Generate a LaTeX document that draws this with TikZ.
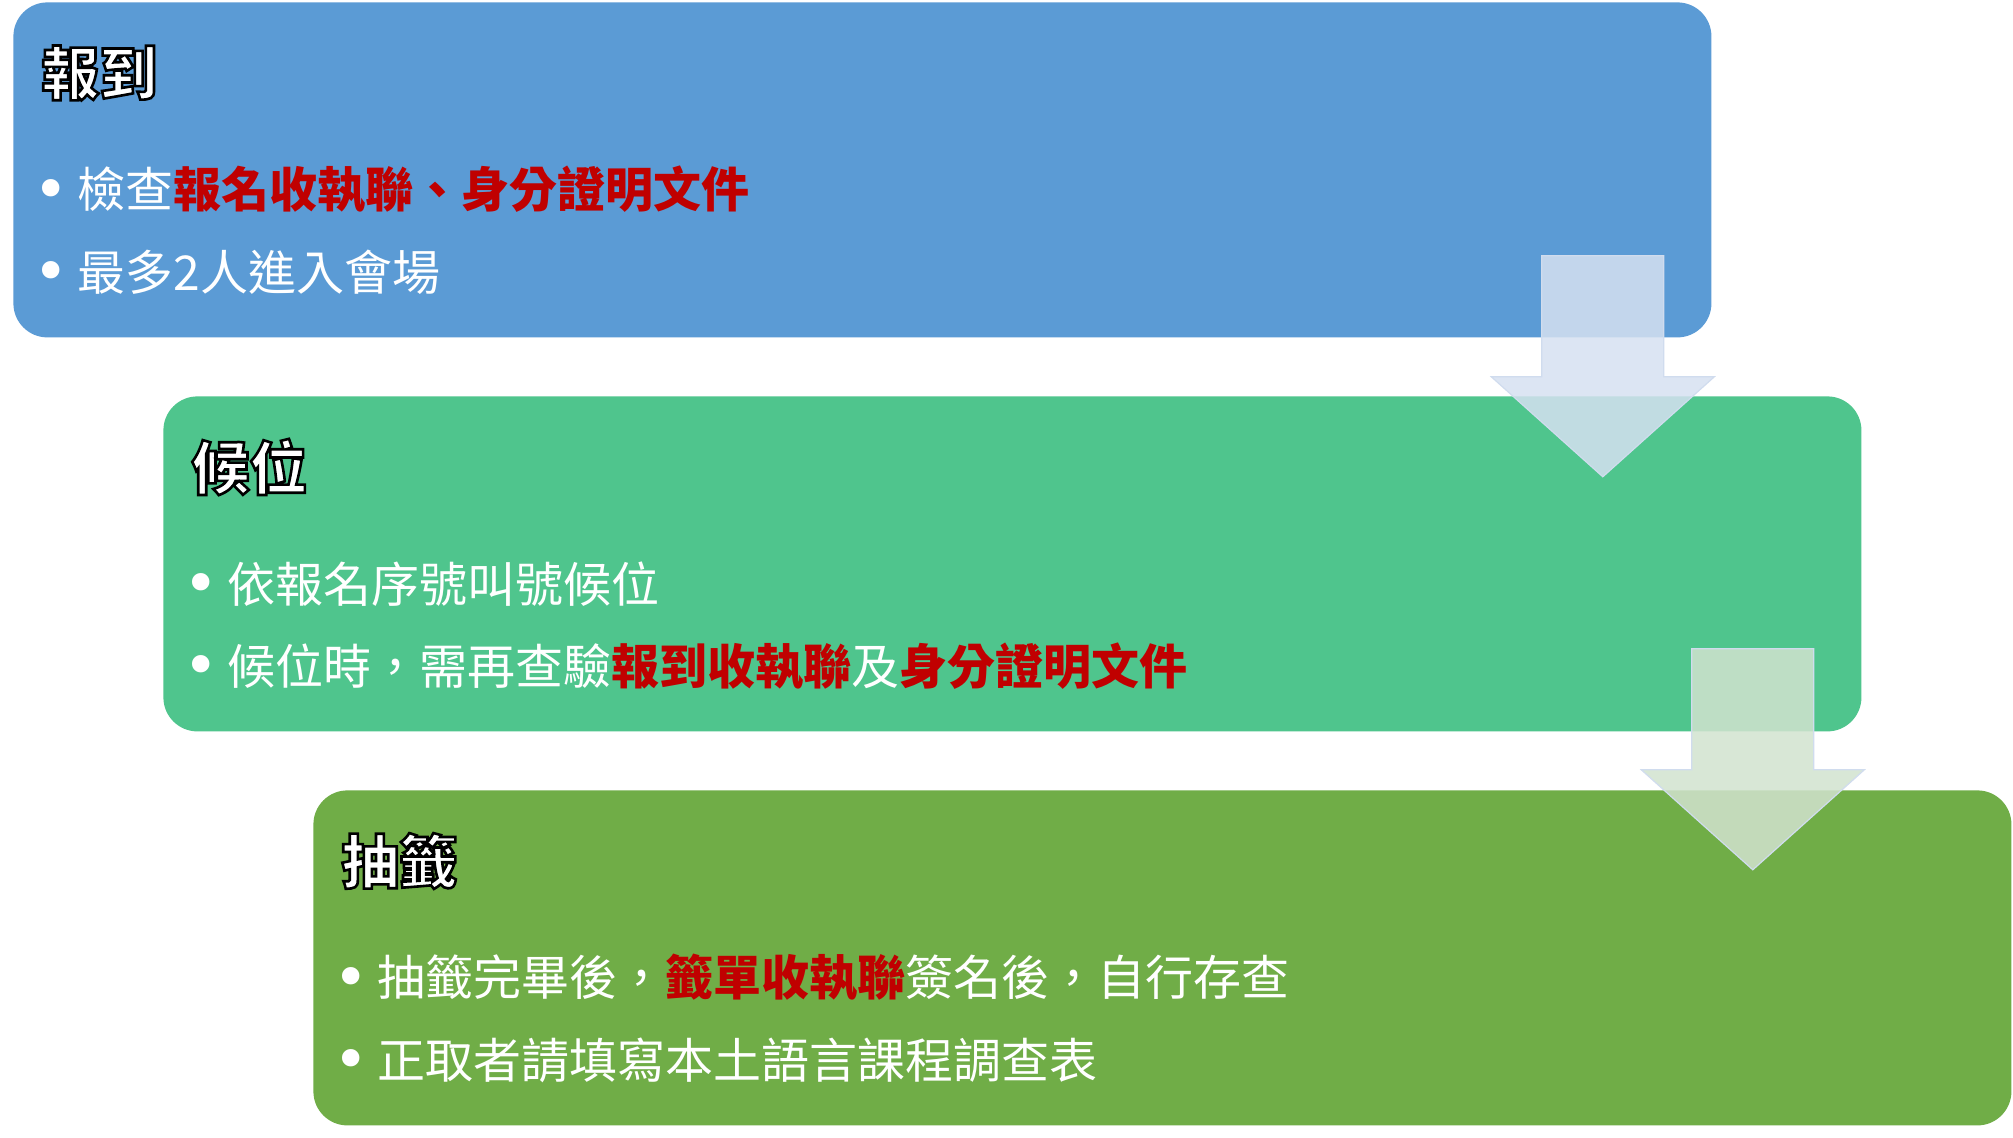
\documentclass[tikz,border=0pt]{standalone}
\usepackage{fontspec}
\setmainfont{Noto Sans CJK TC}
\newfontfamily\dotfont{DejaVu Sans}
\usetikzlibrary{calc}
\definecolor{boxA}{HTML}{5B9BD5}
\definecolor{boxB}{HTML}{4FC58D}
\definecolor{boxC}{HTML}{70AD47}
\definecolor{hot}{HTML}{C00000}
\definecolor{arrA}{HTML}{D6E1F1}
\definecolor{arrB}{HTML}{D2E3CF}
\definecolor{arrEdge}{HTML}{D0DCEE}
\newcommand\hl[1]{{\bfseries\color{hot}#1}}
\newcommand\outlined[1]{\special{pdf:literal direct 0 0 0 RG 1.3 w 2 Tr}#1\special{pdf:literal direct 0 Tr}}
\begin{document}
\begin{tikzpicture}[x=0.5pt,y=-0.5pt,
  stage/.style={rectangle, rounded corners=17pt, draw=none, minimum width=849pt, minimum height=167.5pt, anchor=north west, inner sep=0pt},
  title/.style={anchor=west, inner sep=0pt, text=white, font=\fontsize{29pt}{34pt}\selectfont\bfseries},
  bullet/.style={anchor=center, inner sep=0pt, text=white, font=\dotfont\fontsize{30pt}{34pt}\selectfont},
  item/.style={anchor=west, inner sep=0pt, text=white, font=\fontsize{24pt}{28pt}\selectfont},
  flow/.style={draw=arrEdge, line width=0.6pt, fill opacity=0.85, line join=miter}]
\useasboundingbox (0,0) rectangle (2013,1138);
\fill[white] (0,0) rectangle (2013,1138);

% stages
\node[stage, fill=boxA] (s1) at (13,2) {};
\node[stage, fill=boxB] (s2) at (163,396) {};
\node[stage, fill=boxC] (s3) at (313,790) {};

% stage 1 text
\node[title] (t1) at ($(s1.north west)+(28,71)$) {\outlined{報到}};
\node[bullet] (d11) at ($(s1.north west)+(38,193)$) {•};
\node[item] (l11) at ($(s1.north west)+(64,188)$) {檢查\hl{報名收執聯、身分證明文件}};
\node[bullet] (d12) at ($(s1.north west)+(38,275)$) {•};
\node[item] (l12) at ($(s1.north west)+(64,270)$) {最多2人進入會場};

% stage 2 text
\node[title] (t2) at ($(s2.north west)+(28,71)$) {\outlined{候位}};
\node[bullet] (d21) at ($(s2.north west)+(38,193)$) {•};
\node[item] (l21) at ($(s2.north west)+(64,188)$) {依報名序號叫號候位};
\node[bullet] (d22) at ($(s2.north west)+(38,275)$) {•};
\node[item] (l22) at ($(s2.north west)+(64,270)$) {候位時，需再查驗\hl{報到收執聯}及\hl{身分證明文件}};

% stage 3 text
\node[title] (t3) at ($(s3.north west)+(28,71)$) {\outlined{抽籤}};
\node[bullet] (d31) at ($(s3.north west)+(38,193)$) {•};
\node[item] (l31) at ($(s3.north west)+(64,188)$) {抽籤完畢後，\hl{籤單收執聯}簽名後，自行存查};
\node[bullet] (d32) at ($(s3.north west)+(38,275)$) {•};
\node[item] (l32) at ($(s3.north west)+(64,270)$) {正取者請填寫本土語言課程調查表};

% block arrows
\coordinate (a1) at ($(s1.south east)+(-109,-82)$);
\coordinate (a2) at ($(s2.south east)+(-109,-83)$);
\foreach \a/\c in {a1/arrA, a2/arrB}{
  \path[flow, fill=\c] ($(\a)+(-61,0)$) -- ($(\a)+(61,0)$) -- ($(\a)+(61,121)$)
    -- ($(\a)+(111.5,121)$) -- ($(\a)+(0,221)$) -- ($(\a)+(-111.5,121)$)
    -- ($(\a)+(-61,121)$) -- cycle;
}
\end{tikzpicture}
\end{document}
